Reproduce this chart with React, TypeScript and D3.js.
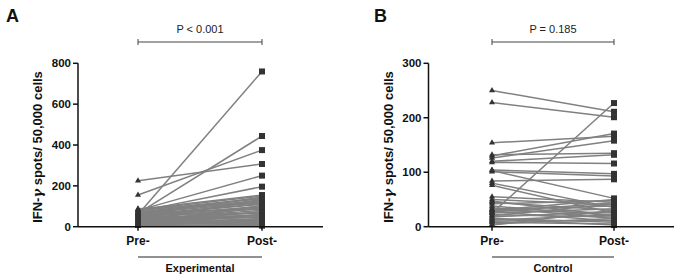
import React from "react";
import * as d3 from "d3";

const groups = ["Pre-", "Post-"];
const tickA = [0, 200, 400, 600, 800];
const tickB = [0, 100, 200, 300];

const preA = [225, 155, 65, 60, 80, 75, 85, 82, 78, 70, 65, 60, 55, 50, 45, 40, 35, 30, 25, 20, 15, 10, 8, 5, 70, 60, 50, 45, 40, 35, 30, 20, 15, 10, 5, 2, 25, 88, 72, 68, 58, 52, 48, 38, 28, 18, 12, 3];
const postA = [307, 375, 444, 760, 250, 196, 155, 150, 140, 130, 120, 145, 110, 100, 125, 90, 80, 70, 60, 50, 40, 30, 20, 10, 85, 65, 45, 35, 55, 25, 15, 95, 75, 105, 60, 5, 135, 115, 138, 128, 112, 98, 88, 70, 48, 32, 22, 12];

const preB = [250, 228, 25, 154, 130, 126, 132, 120, 118, 104, 101, 103, 84, 80, 76, 55, 50, 47, 45, 42, 35, 32, 30, 28, 25, 22, 20, 18, 15, 12, 10, 8, 5, 3, 30, 38, 27, 14];
const postB = [211, 201, 227, 166, 171, 158, 135, 132, 116, 97, 93, 52, 87, 35, 25, 45, 40, 20, 30, 48, 15, 38, 25, 10, 33, 18, 42, 28, 8, 22, 12, 5, 15, 30, 50, 20, 44, 3];

type PanelProps = {
  letter: string;
  letterX: number;
  axisX: number;
  preX: number;
  postX: number;
  axisEnd: number;
  max: number;
  ticks: number[];
  pre: number[];
  post: number[];
  pText: string;
  group: string;
};

const FONT = "Arial, 'Liberation Sans', sans-serif";

function Panel(p: PanelProps) {
  const y = d3.scaleLinear().domain([0, p.max]).range([226.7, 63.3]);
  const x = d3.scalePoint<string>().domain(groups).range([p.preX, p.postX]);
  const line = d3.line<[string, number]>().x((d) => x(d[0])!).y((d) => y(d[1]));
  const pairs = p.pre.map((v, i) => [v, p.post[i]]);
  const xp = x("Pre-")!;
  const xq = x("Post-")!;
  const mid = (xp + xq) / 2;
  const titleY = (y(0) + y(p.max)) / 2 + 2;
  return (
    <g>
      <text x={p.letterX} y={22} fontFamily={FONT} fontWeight="bold" fontSize={18} fill="#111">{p.letter}</text>
      <text x={mid} y={33} fontFamily={FONT} fontSize={11} textAnchor="middle" fill="#222">{p.pText}</text>
      <line x1={xp} x2={xq} y1={42} y2={42} stroke="#444" strokeWidth={1} />
      <line x1={xp} x2={xp} y1={39} y2={45} stroke="#444" strokeWidth={1} />
      <line x1={xq} x2={xq} y1={39} y2={45} stroke="#444" strokeWidth={1} />
      {pairs.map((d, i) => (
        <path key={i} d={line([["Pre-", d[0]], ["Post-", d[1]]])!} stroke="#808080" strokeWidth={1.5} fill="none" />
      ))}
      {p.pre.map((v, i) => (
        <path key={"t" + i} d={d3.symbol(d3.symbolTriangle, 16)()!} transform={`translate(${xp},${y(v)})`} fill="#333" />
      ))}
      {p.post.map((v, i) => (
        <rect key={"s" + i} x={xq - 3} y={y(v) - 3} width={6} height={6} fill="#333" />
      ))}
      <line x1={p.axisX} x2={p.axisX} y1={y(p.max)} y2={y(0)} stroke="#111" strokeWidth={1.5} />
      <line x1={p.axisX} x2={p.axisEnd} y1={y(0)} y2={y(0)} stroke="#111" strokeWidth={1.5} />
      {p.ticks.map((t) => (
        <g key={t}>
          <line x1={p.axisX - 5} x2={p.axisX} y1={y(t)} y2={y(t)} stroke="#111" strokeWidth={1.5} />
          <text x={p.axisX - 7} y={y(t) + 4} fontFamily={FONT} fontWeight="bold" fontSize={11.5} textAnchor="end" fill="#111">{t}</text>
        </g>
      ))}
      {groups.map((g) => (
        <g key={g}>
          <line x1={x(g)!} x2={x(g)!} y1={y(0)} y2={y(0) + 4} stroke="#111" strokeWidth={1.5} />
          <text x={x(g)!} y={245} fontFamily={FONT} fontWeight="bold" fontSize={12} textAnchor="middle" fill="#111">{g}</text>
        </g>
      ))}
      <line x1={xp} x2={xq} y1={257} y2={257} stroke="#222" strokeWidth={1} />
      <text x={mid} y={272} fontFamily={FONT} fontWeight="bold" fontSize={11} textAnchor="middle" fill="#111">{p.group}</text>
      <text transform={`translate(${p.axisX - 36},${titleY}) rotate(-90)`} fontFamily={FONT} fontWeight="bold" fontSize={13} textAnchor="middle" fill="#111">
        IFN-<tspan fontStyle="italic" fontFamily="'DejaVu Serif', serif">γ</tspan> spots/ 50,000 cells
      </text>
    </g>
  );
}

export default function App() {
  return (
    <svg width={682} height={280} style={{ position: "absolute", left: 0, top: 0, background: "#fff" }}>
      <rect width={682} height={280} fill="#fff" />
      <Panel letter="A" letterX={6} axisX={78} preX={138} postX={262} axisEnd={323} max={800} ticks={tickA} pre={preA} post={postA} pText="P < 0.001" group="Experimental" />
      <Panel letter="B" letterX={374} axisX={428.5} preX={492} postX={614} axisEnd={674} max={300} ticks={tickB} pre={preB} post={postB} pText="P = 0.185" group="Control" />
    </svg>
  );
}
